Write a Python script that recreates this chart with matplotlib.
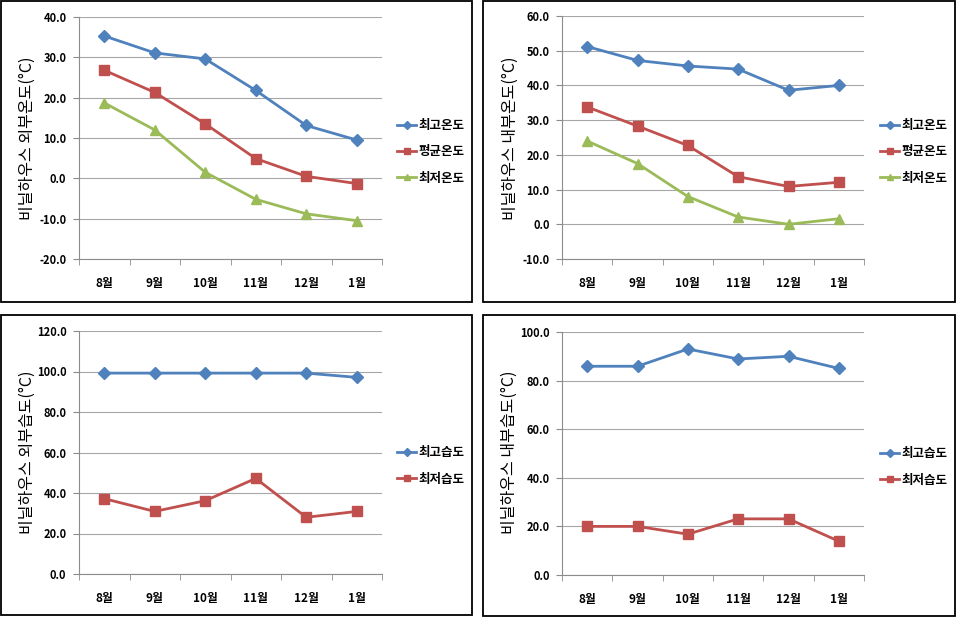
import matplotlib
matplotlib.use("Agg")
import matplotlib.pyplot as plt
from matplotlib.patches import Rectangle

plt.rcParams['font.family'] = ['Noto Sans CJK KR', 'DejaVu Sans']

months = ['8월', '9월', '10월', '11월', '12월', '1월']

out_temp_max = [35.3, 31.1, 29.6, 21.8, 13.1, 9.5]
out_temp_avg = [26.8, 21.3, 13.5, 4.9, 0.5, -1.3]
out_temp_min = [18.7, 12.0, 1.5, -5.2, -8.8, -10.5]

in_temp_max = [51.2, 47.2, 45.6, 44.7, 38.6, 40.0]
in_temp_avg = [33.8, 28.3, 22.7, 13.7, 10.9, 12.1]
in_temp_min = [24.0, 17.5, 8.0, 2.1, 0.0, 1.6]

out_hum_max = [99.2, 99.2, 99.2, 99.2, 99.2, 97.1]
out_hum_min = [37.2, 30.9, 36.2, 47.2, 28.0, 30.9]

in_hum_max = [85.9, 85.9, 93.0, 88.9, 90.0, 85.0]
in_hum_min = [20.0, 20.0, 16.8, 23.1, 23.1, 13.9]

temp_labels = ['최고온도', '평균온도', '최저온도']
hum_labels = ['최고습도', '최저습도']

BLUE = '#4F81BD'
RED = '#C0504D'
GREEN = '#9BBB59'
GRID = '#8C8C8C'
GRIDLINE = '#A6A6A6'

W, H = 957, 618
fig = plt.figure(figsize=(W / 100, H / 100), dpi=100)


def px_axes(left, top, right, bottom):
    return fig.add_axes([left / W, 1 - bottom / H, (right - left) / W, (bottom - top) / H])


def border(x0, y0, x1, y1):
    fig.patches.append(Rectangle((x0 / W, 1 - y1 / H), (x1 - x0) / W, (y1 - y0) / H,
                                 transform=fig.transFigure, fill=False,
                                 edgecolor='black', linewidth=1.3, zorder=10))


def setup(ax, ymin, ymax, step):
    x = list(range(len(months)))
    ax.set_xlim(-0.5, len(months) - 0.5)
    ax.set_ylim(ymin, ymax)
    ticks = []
    v = ymin
    while v <= ymax + 1e-9:
        ticks.append(v)
        v += step
    ax.set_yticks(ticks)
    ax.set_yticklabels([f'{t:.1f}' for t in ticks], fontsize=8, fontweight='bold')
    ax.set_xticks(x)
    ax.set_xticklabels(months, fontsize=8.5, fontweight='bold')
    ax.set_xticks([i + 0.5 for i in range(-1, len(months))], minor=True)
    ax.tick_params(axis='x', which='major', length=0, pad=13)
    ax.tick_params(axis='x', which='minor', length=4, color=GRID, direction='out')
    ax.tick_params(axis='y', length=4, color=GRID, pad=5)
    for s in ['top', 'right']:
        ax.spines[s].set_visible(False)
    for s in ['left', 'bottom']:
        ax.spines[s].set_color(GRID)
        ax.spines[s].set_linewidth(0.8)
    ax.grid(axis='y', color=GRIDLINE, linewidth=0.8)
    ax.set_axisbelow(True)
    return x


def legend(ax, fig_x, fig_y):
    leg = ax.legend(loc='center left', bbox_to_anchor=(fig_x / W, 1 - fig_y / H),
                    bbox_transform=fig.transFigure, frameon=False,
                    prop={'size': 9, 'weight': 'bold'}, handlelength=1.55,
                    handletextpad=0.15, labelspacing=1.05, markerscale=0.7,
                    borderpad=0, borderaxespad=0)
    return leg


styles = [dict(color=BLUE, marker='D', markersize=6),
          dict(color=RED, marker='s', markersize=7),
          dict(color=GREEN, marker='^', markersize=7)]

YL = 11.5

# Panel 1
border(1, 1, 472, 302)
ax1 = px_axes(79, 17, 382, 259)
x = setup(ax1, -20, 40, 10)
for vals, lab, st in zip([out_temp_max, out_temp_avg, out_temp_min], temp_labels, styles):
    ax1.plot(x, vals, linewidth=2, label=lab, **st)
legend(ax1, 397, 152)
fig.text(27 / W, 1 - 138 / H, '비닐하우스 외부온도(°C)', rotation=90, ha='center', va='center', fontsize=YL)

# Panel 2
border(483, 1, 955, 302)
ax2 = px_axes(562, 16, 864, 259)
x = setup(ax2, -10, 60, 10)
for vals, lab, st in zip([in_temp_max, in_temp_avg, in_temp_min], temp_labels, styles):
    ax2.plot(x, vals, linewidth=2, label=lab, **st)
legend(ax2, 880, 152)
fig.text(510 / W, 1 - 138 / H, '비닐하우스 내부온도(°C)', rotation=90, ha='center', va='center', fontsize=YL)

# Panel 3
border(1, 315, 472, 615)
ax3 = px_axes(79, 331, 382, 574)
x = setup(ax3, 0, 120, 20)
for vals, lab, st in zip([out_hum_max, out_hum_min], hum_labels, styles[:2]):
    ax3.plot(x, vals, linewidth=2, label=lab, **st)
legend(ax3, 397, 466)
fig.text(27 / W, 1 - 452 / H, '비닐하우스 외부습도(°C)', rotation=90, ha='center', va='center', fontsize=YL)

# Panel 4
border(483, 315, 955, 616)
ax4 = px_axes(562, 332, 864, 575)
x = setup(ax4, 0, 100, 20)
for vals, lab, st in zip([in_hum_max, in_hum_min], hum_labels, styles[:2]):
    ax4.plot(x, vals, linewidth=2, label=lab, **st)
legend(ax4, 880, 467)
fig.text(509 / W, 1 - 452 / H, '비닐하우스 내부습도(°C)', rotation=90, ha='center', va='center', fontsize=YL)

fig.savefig('out.png', dpi=100)
